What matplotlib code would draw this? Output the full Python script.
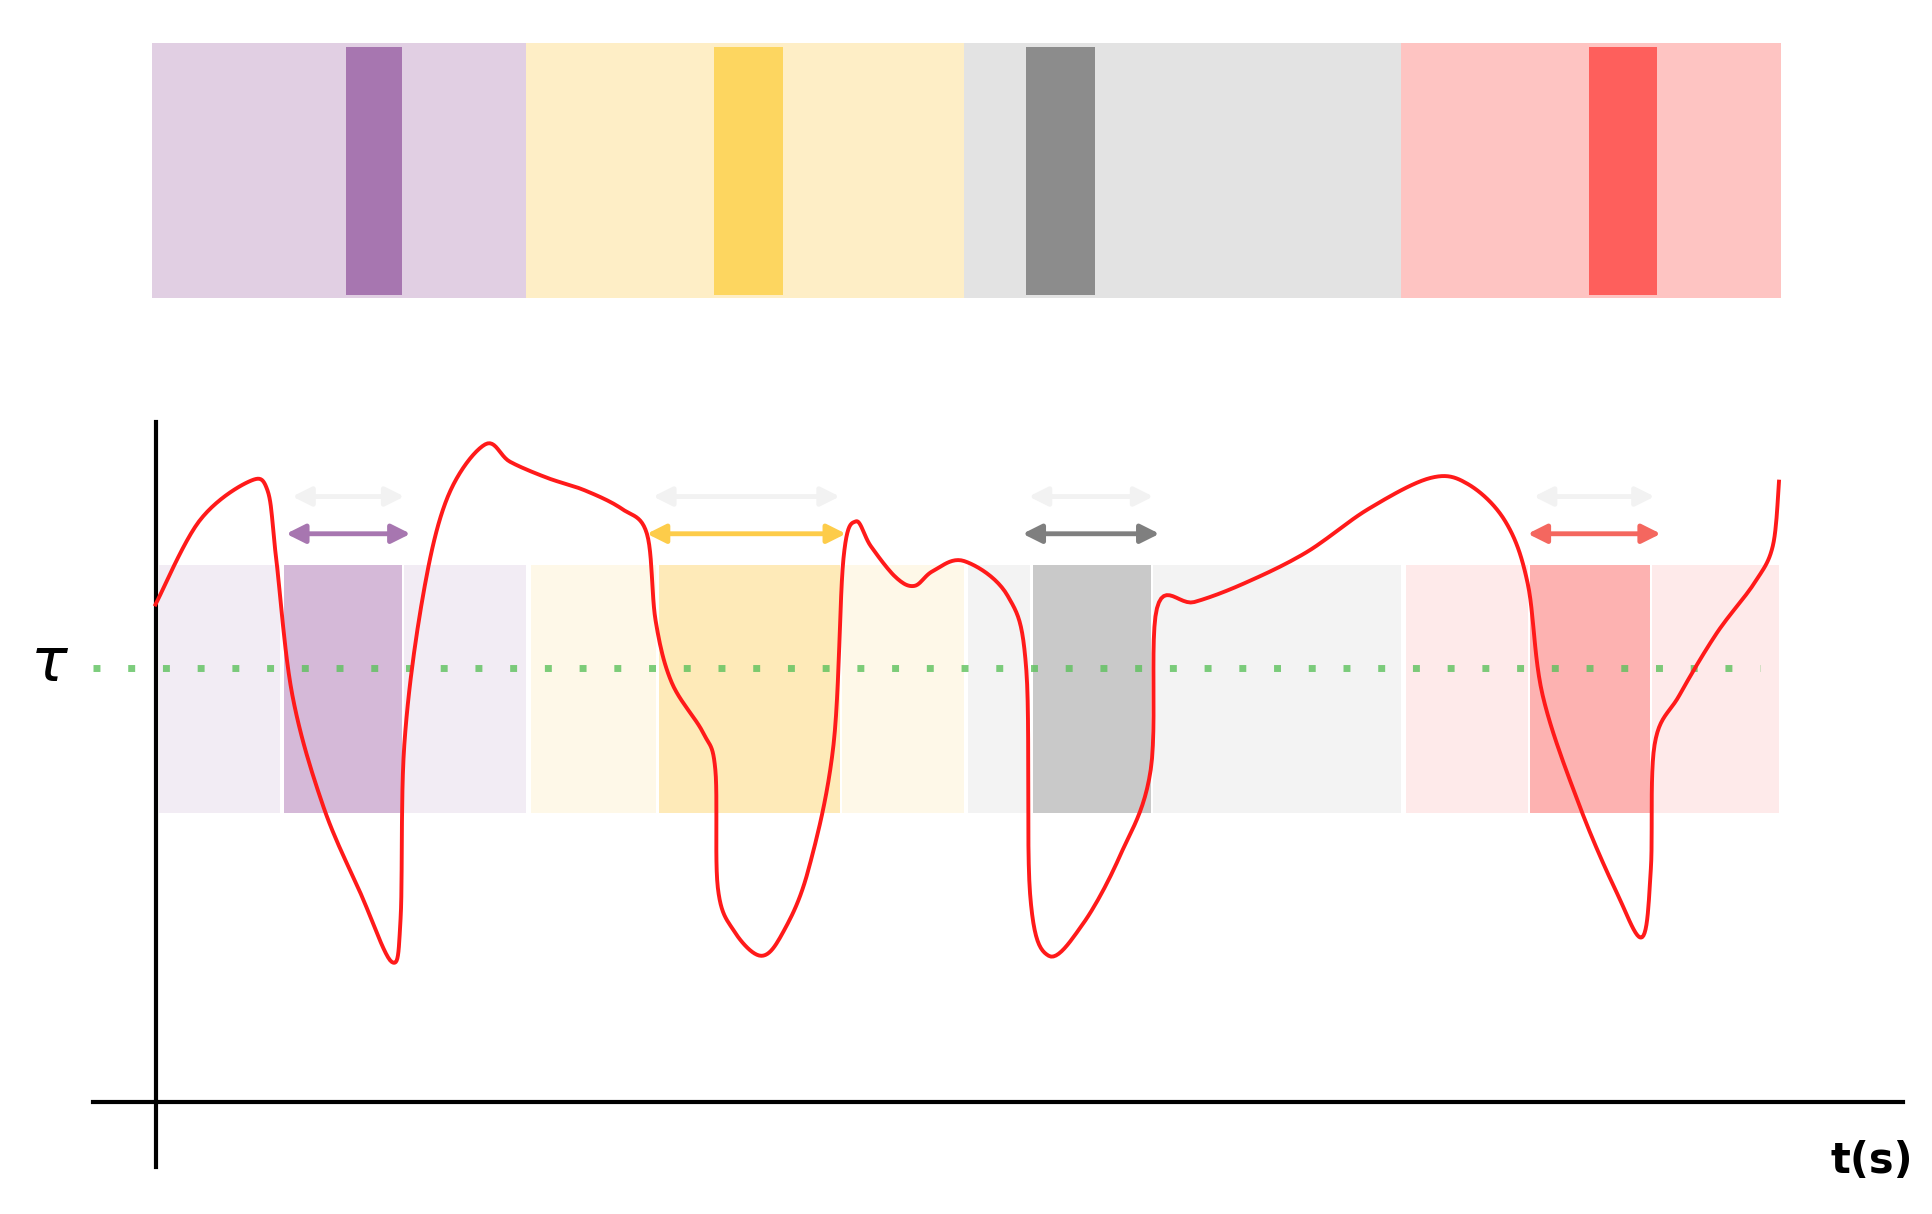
import numpy as np
import matplotlib; matplotlib.use('Agg')
import matplotlib.pyplot as plt

# top strip segments: (x0, x1, colour)
TOP_BG   = [(122, 423, '#e1cfe3'), (423, 775, '#feeec6'), (775, 1126, '#e3e3e3'), (1126, 1432, '#fec4c2')]
TOP_DARK = [(278, 323, '#a776b0'), (574, 629, '#fdd660'), (825, 880, '#8c8c8c'), (1277, 1332, '#fe5f5c')]

# lower band segments
BAND = [(128, 225, '#f2ecf4'), (228, 323, '#d5b9d8'), (325, 423, '#f2ecf4'),
        (427, 527, '#fef8e8'), (530, 675, '#feeab8'), (677, 775, '#fef8e8'),
        (778, 828, '#f3f3f3'), (830, 925, '#c9c9c9'), (927, 1126, '#f3f3f3'),
        (1130, 1228, '#feeaea'), (1230, 1326, '#fdb2b1'), (1328, 1430, '#feeaea')]

ARROWS = [(230, 330, '#a776b0'), (520, 680, '#fdcc4a'), (822, 932, '#7f7f7f'), (1228, 1335, '#f4675f')]

# signal curve (x, y)
CX = [125, 160, 200, 215, 222, 235, 260, 290, 315, 322, 325, 340, 360, 390, 410, 440, 470, 500, 520, 527,
      540, 565, 575, 577, 590, 612, 630, 650, 670, 678, 688, 700, 720, 735, 750, 775, 810, 825, 828, 843,
      870, 900, 925, 930, 960, 1000, 1050, 1100, 1150, 1180, 1210, 1228, 1240, 1270, 1300, 1320, 1327,
      1330, 1350, 1380, 1410, 1425, 1430]
CY = [487, 420, 388, 395, 450, 560, 650, 720, 775, 740, 600, 480, 400, 358, 372, 385, 395, 410, 430, 500,
      550, 590, 620, 715, 750, 770, 750, 700, 600, 450, 420, 440, 465, 472, 460, 452, 480, 540, 720, 770,
      745, 690, 620, 490, 485, 470, 445, 410, 385, 390, 420, 470, 560, 650, 720, 755, 700,
      600, 560, 510, 470, 440, 388]


def catmull(x, y, n=12):
    p = np.column_stack([x, y]).astype(float)
    p = np.vstack([p[0], p, p[-1]])
    out = []
    t = np.linspace(0, 1, n, endpoint=False)[:, None]
    for i in range(1, len(p) - 2):
        p0, p1, p2, p3 = p[i-1], p[i], p[i+1], p[i+2]
        out.append(0.5 * (2*p1 + (-p0 + p2)*t + (2*p0 - 5*p1 + 4*p2 - p3)*t**2 + (-p0 + 3*p1 - 3*p2 + p3)*t**3))
    out.append(p[-2][None])
    return np.vstack(out)


fig = plt.figure(figsize=(19.32, 12.14), dpi=100)
ax = fig.add_axes([0, 0, 1, 1])
ax.set_xlim(0, 1553)
ax.set_ylim(978, 0)
ax.axis('off')

for x0, x1, c in TOP_BG:
    ax.fill_between([x0, x1], 35, 240, color=c, lw=0)
for x0, x1, c in TOP_DARK:
    ax.fill_between([x0, x1], 38, 238, color=c, lw=0)
for x0, x1, c in BAND:
    ax.fill_between([x0, x1], 455, 655, color=c, lw=0)

ax.plot([75, 1415], [538, 538], color='#5cc15c', lw=5, ls=(0, (1, 4)), alpha=0.8)

for x0, x1, c in ARROWS:
    ax.annotate('', xy=(x1, 430), xytext=(x0, 430),
                arrowprops=dict(arrowstyle='<|-|>', color=c, lw=3.5, mutation_scale=28, shrinkA=0, shrinkB=0))
    ax.annotate('', xy=(x1 - 5, 400), xytext=(x0 + 5, 400),
                arrowprops=dict(arrowstyle='<|-|>', color='#f2f2f2', lw=3.5, mutation_scale=28, shrinkA=0, shrinkB=0))

pts = catmull(CX, CY)
ax.plot(pts[:, 0], pts[:, 1], color='#ff1a1a', lw=2.8, zorder=5)

ax.plot([125, 125], [340, 940], color='black', lw=3)
ax.plot([75, 1530], [888, 888], color='black', lw=3)

ax.text(40, 535, r'$\tau$', fontsize=44, ha='center', va='center')
ax.text(1505, 935, 't(s)', fontsize=30, fontweight='bold', ha='center', va='center')

fig.savefig('out.png', dpi=100)
